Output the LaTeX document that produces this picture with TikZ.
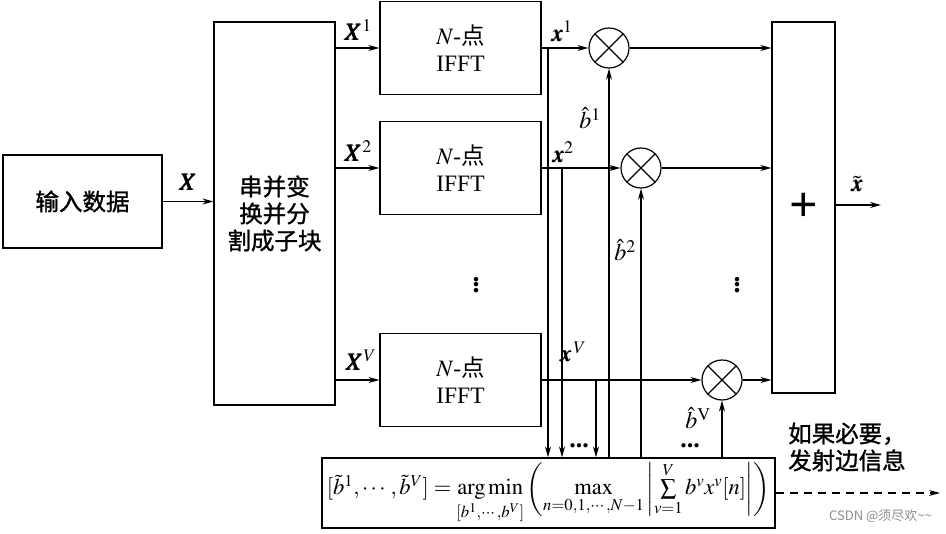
\documentclass[tikz,border=0pt]{standalone}
\usepackage{amsmath}
\usepackage{mathptmx}
\usepackage{bm}
\usepackage{fontspec}
\setmainfont{Liberation Serif}
\newfontfamily\cjk[FakeBold=1.2]{Noto Sans CJK SC}
\newfontfamily\cjkw{Noto Sans CJK SC}
\usetikzlibrary{arrows.meta,calc}
\begin{document}
\begin{tikzpicture}[x=1pt,y=-1pt,
  box/.style={draw,line width=1.2pt,inner sep=0pt},
  conn/.style={line width=1.2pt,-{Stealth[length=11pt,width=6pt]}},
  mult/.style={draw,circle,line width=1.2pt,minimum size=40pt,inner sep=0pt,
    path picture={\draw[line width=1.2pt] (path picture bounding box.south west)--(path picture bounding box.north east)
      (path picture bounding box.north west)--(path picture bounding box.south east);}},
  zh/.style={font=\cjk\fontsize{23.5}{27}\selectfont},
  fft/.style={box,minimum width=161pt,minimum height=93pt,align=center,font=\fontsize{23.5}{27}\selectfont},
  lab/.style={font=\fontsize{24}{26}\selectfont,inner sep=0pt},
  vdot/.style={font=\bfseries\fontsize{28}{28}\selectfont,inner sep=0pt},
  hdot/.style={font=\bfseries\fontsize{26}{26}\selectfont,inner sep=0pt}]
\useasboundingbox (0,0) rectangle (946,534);
% blocks
\node[box,minimum width=159pt,minimum height=93pt,zh] (in) at (82.5,201.5) {输入数据};
\node[box,minimum width=121pt,minimum height=383pt,zh,align=center] (sp) at (274.5,213.5) {串并变\\换并分\\割成子块};
\node[fft] (f1) at (460.5,48) {$N$-{\cjkw 点}\\IFFT};
\node[fft] (f2) at (460.5,168) {$N$-{\cjkw 点}\\IFFT};
\node[fft] (fV) at (460.5,380) {$N$-{\cjkw 点}\\IFFT};
\node[box,minimum width=63pt,minimum height=371pt,font=\bfseries\fontsize{50}{50}\selectfont] (add) at (803.5,207.5) {+};
\node[mult] (m1) at (609,48) {};
\node[mult] (m2) at (641,168) {};
\node[mult] (mV) at (722,380) {};
\node[box,minimum width=453pt,minimum height=70pt,font=\fontsize{22.5}{25}\selectfont] (eq) at (548.5,493)
  {$[\tilde{b}^1,\cdots,\tilde{b}^V]=\mathop{\mathrm{arg\,min}}\limits_{[b^1,\cdots,b^V]}\left(\max\limits_{n=0,1,\cdots,N-1}\left|\sum\limits_{v=1}^{V} b^v x^v[n]\right|\right)$};
% main arrows
\draw[conn] (in.east) -- (in.east -| sp.west);
\draw[conn] (sp.east |- f1.west) -- (f1.west);
\draw[conn] (sp.east |- f2.west) -- (f2.west);
\draw[conn] (sp.east |- fV.west) -- (fV.west);
\draw[conn] (f1.east) -- (m1.west);
\draw[conn] (f2.east) -- (m2.west);
\draw[conn] (fV.east) -- (mV.west);
\draw[conn] (m1.east) -- (m1.east -| add.west);
\draw[conn] (m2.east) -- (m2.east -| add.west);
\draw[conn] (mV.east) -- (mV.east -| add.west);
\coordinate (out) at (881,205);
\draw[conn] (add.east |- out) -- (out);
% branches down to equation box
\coordinate (br1) at (548,48);
\coordinate (br2) at (562,168);
\coordinate (brV) at (596,380);
\draw[conn] (br1) -- (br1 |- eq.north);
\draw[conn] (br2) -- (br2 |- eq.north);
\draw[conn] (brV) -- (brV |- eq.north);
% side information up to multipliers
\draw[conn] (m1.south |- eq.north) -- (m1.south);
\draw[conn] (m2.south |- eq.north) -- (m2.south);
\draw[conn] (mV.south |- eq.north) -- (mV.south);
% dashed output
\coordinate (side) at (940,493);
\draw[conn,dash pattern=on 8pt off 6pt] (eq.east) -- (side);
% labels
\node[lab] (lX) at (188,182) {$\bm{X}$};
\node[lab] (lX1) at (358,30) {$\bm{X}^1$};
\node[lab] (lX2) at (358,151) {$\bm{X}^2$};
\node[lab] (lXV) at (361,360) {$\bm{X}^V$};
\node[lab] (lx1) at (562,31) {$\bm{x}^1$};
\node[lab] (lx2) at (563,152) {$\bm{x}^2$};
\node[lab] (lxV) at (573,352) {$\bm{x}^{\,V}$};
\node[lab] (lb1) at (590,118) {$\hat{b}^1$};
\node[lab] (lb2) at (625,250) {$\hat{b}^2$};
\node[lab] (lbV) at (698,418) {$\hat{b}^{\mathrm{V}}$};
\node[lab] (lxt) at (857,184) {$\tilde{\bm{x}}$};
\node[vdot] (d1) at (476,282) {$\vdots$};
\node[vdot] (d2) at (737,282) {$\vdots$};
\node[hdot] (d3) at (579,446) {...};
\node[hdot] (d4) at (690,446) {...};
\node[zh,anchor=west,align=left,inner sep=0pt] (note) at (788,447) {如果必要，\\发射边信息};
\node[anchor=east,inner sep=0pt,text=black!45,font=\cjkw\fontsize{13}{15}\selectfont] (wm) at (932,516) {CSDN @须尽欢\textasciitilde\textasciitilde};
\end{tikzpicture}
\end{document}
